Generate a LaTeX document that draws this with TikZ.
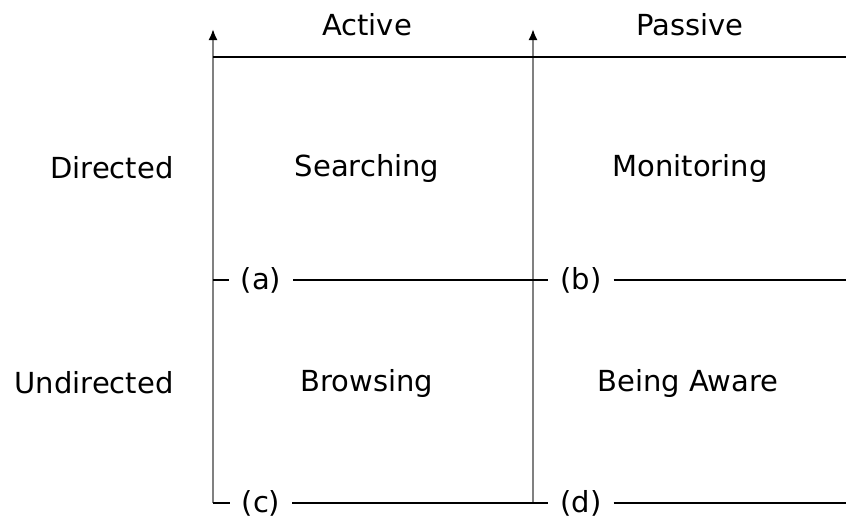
\documentclass[tikz,border=0pt]{standalone}
\usepackage{fontspec}
\setmainfont{DejaVu Sans}
\usetikzlibrary{positioning, arrows.meta}

\begin{document}
\begin{tikzpicture}[x=1pt, y=-1pt,
   every node/.style = {font=\fontsize{29}{34}\selectfont},
   axis/.style = {line width=2pt, gray, -{Latex[black, length=11pt, width=9pt]}},
   rule/.style = {line width=1.8pt, black},
   tag/.style  = {inner xsep=12pt, inner ysep=0pt}
                        ]
\useasboundingbox (0,0) rectangle (846,515);
% corners of the grid
\coordinate (act0) at (213,503);
\coordinate (act1) at (213,29);
\coordinate (pas0) at (533,503);
\coordinate (pas1) at (533,29);
\coordinate (top0) at (213,57);
\coordinate (top1) at (846,57);
\coordinate (mid0) at (213,280);
\coordinate (mid1) at (846,280);
\coordinate (bot1) at (846,503);
% headings
\node (active)  at (367,25)  {Active};
\node (passive) at (690,25)  {Passive};
\node (dir)     [anchor=east] at (177,168) {Directed};
\node (undir)   [anchor=east] at (177,383) {Undirected};
% cells
\node (search)  at (367,168) {Searching};
\node (monitor) at (690,168) {Monitoring};
\node (browse)  at (367,383) {Browsing};
\node (aware)   at (688,383) {Being Aware};
% corner marks
\node (ta) [tag] at (261,280) {(a)};
\node (tb) [tag] at (581,280) {(b)};
\node (tc) [tag] at (261,503) {(c)};
\node (td) [tag] at (581,503) {(d)};
% lines
\draw [axis] (act0) -- (act1);
\draw [axis] (pas0) -- (pas1);
\draw [rule] (top0) -- (top1);
\draw [rule] (mid0) -- (ta) -- (tb) -- (mid1);
\draw [rule] (act0) -- (tc) -- (td) -- (bot1);
\end{tikzpicture}
\end{document}
